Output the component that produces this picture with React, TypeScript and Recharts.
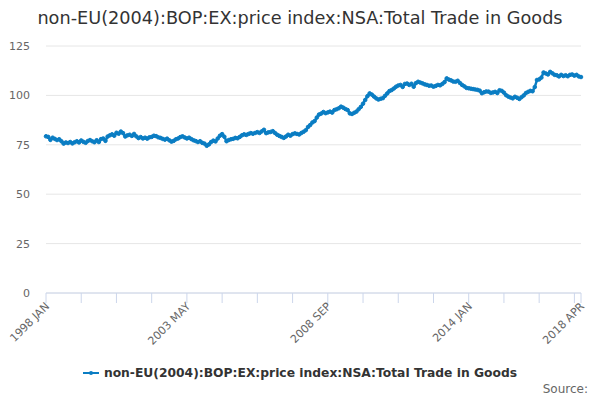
import React from 'react';
import { LineChart, Line, XAxis, YAxis, CartesianGrid, Legend } from 'recharts';

const TITLE = 'non-EU(2004):BOP:EX:price index:NSA:Total Trade in Goods';
const SERIES_NAME = 'non-EU(2004):BOP:EX:price index:NSA:Total Trade in Goods';
const SOURCE_TEXT = 'Source:';
const START_YEAR = 1998;
const MONTHS = ['JAN', 'FEB', 'MAR', 'APR', 'MAY', 'JUN', 'JUL', 'AUG', 'SEP', 'OCT', 'NOV', 'DEC'];

const VALUES = [
  // 1998
  79.3, 79.0, 77.5, 78.6, 78.0, 77.4, 77.8, 76.8, 75.6, 76.2, 75.9, 76.4,
  // 1999
  75.7, 76.3, 76.8, 76.2, 77.2, 76.5, 76.0, 76.9, 77.4, 76.8, 76.3, 77.3,
  // 2000
  76.4, 77.9, 78.2, 77.0, 79.2, 79.8, 80.3, 79.6, 81.1, 80.6, 81.7, 80.9,
  // 2001
  79.2, 79.8, 80.1, 79.5, 80.5, 79.3, 78.4, 78.9, 78.2, 78.6, 78.1, 78.8,
  // 2002
  79.0, 79.6, 79.4, 78.8, 78.5, 78.0, 77.6, 78.1, 77.3, 76.6, 77.0, 77.8,
  // 2003
  78.2, 78.9, 79.3, 78.7, 78.2, 78.6, 77.9, 77.3, 76.9, 76.4, 76.8, 76.0,
  // 2004
  75.6, 74.5, 75.2, 76.4, 77.1, 76.7, 78.2, 79.6, 80.4, 79.1, 76.8, 77.4,
  // 2005
  77.8, 78.0, 78.5, 78.3, 79.0, 79.8, 80.3, 80.0, 80.5, 80.9, 80.6, 81.0,
  // 2006
  81.4, 81.0, 81.8, 82.6, 80.9, 81.3, 81.5, 81.9, 81.0, 80.1, 79.5, 79.0,
  // 2007
  78.5, 79.2, 80.1, 79.6, 80.4, 80.8, 80.5, 80.2, 81.0, 81.6, 82.4, 84.0,
  // 2008
  85.0, 86.3, 87.0, 88.8, 90.3, 90.8, 91.6, 91.0, 91.4, 91.8, 91.3, 92.6,
  // 2009
  93.0, 93.5, 94.3, 93.8, 93.1, 92.6, 90.9, 90.6, 91.2, 91.8, 93.0, 94.2,
  // 2010
  95.8, 97.7, 99.6, 101.0, 100.4, 99.4, 98.5, 97.9, 98.3, 98.6, 99.8, 101.0,
  // 2011
  102.2, 102.7, 103.5, 104.4, 105.0, 105.3, 104.3, 105.8, 106.0, 105.3, 105.9, 104.4,
  // 2012
  106.2, 106.9, 106.5, 106.1, 105.6, 105.3, 104.9, 105.0, 104.4, 104.8, 105.3, 105.1,
  // 2013
  105.8, 106.7, 108.6, 108.0, 107.6, 107.0, 106.9, 107.4, 106.3, 105.3, 104.6, 103.8,
  // 2014
  103.6, 103.4, 103.2, 103.0, 102.8, 102.4, 101.1, 101.6, 102.0, 101.9, 101.3, 101.5,
  // 2015
  101.8, 101.2, 102.6, 102.3, 101.4, 100.1, 99.4, 98.9, 98.5, 99.3, 98.8, 98.2,
  // 2016
  99.1, 100.0, 101.2, 101.8, 102.3, 102.1, 104.2, 107.8, 108.1, 109.0, 111.6, 111.1,
  // 2017
  110.6, 111.9, 111.2, 110.4, 110.2, 109.6, 110.4, 109.8, 110.2, 109.7, 110.4, 110.6,
  // 2018
  110.0, 110.4, 109.6, 109.3,
];

const Y_TICKS = [0, 25, 50, 75, 100, 125];
const X_TICK_INDICES = [0, 16, 32, 48, 64, 80, 96, 112, 128, 144, 160, 176, 192, 208, 224, 240, 243];
const X_LABEL_INDICES = [0, 64, 128, 192, 243];

const CATEGORIES = VALUES.map((_, i) => `${START_YEAR + Math.floor(i / 12)} ${MONTHS[i % 12]}`);
const DATA = CATEGORIES.map((c, i) => ({ month: c, value: VALUES[i] }));
const X_TICKS = X_TICK_INDICES.map((i) => CATEGORIES[i]);
const X_LABELS = new Set(X_LABEL_INDICES.map((i) => CATEGORIES[i]));

const COLOR = '#0a7dc3';
const FONT = '"DejaVu Sans", Verdana, sans-serif';

const XTick = (props: any) => {
  const { x, y, payload } = props;
  if (!X_LABELS.has(payload.value)) return null;
  const tx = x + 4;
  const ty = y + 2;
  return (
    <text
      x={tx}
      y={ty}
      transform={`rotate(-45 ${tx} ${ty})`}
      textAnchor="end"
      fill="#666666"
      fontSize={11}
      fontFamily={FONT}
    >
      {payload.value}
    </text>
  );
};

const LegendContent = () => (
  <div
    style={{
      display: 'flex',
      justifyContent: 'center',
      alignItems: 'center',
      fontFamily: FONT,
      fontSize: 12.3,
      fontWeight: 'bold',
      color: '#333333',
      height: 18,
    }}
  >
    <svg width={16} height={12} style={{ display: 'block' }}>
      <line x1={0} y1={6} x2={16} y2={6} stroke={COLOR} strokeWidth={2} />
      <circle cx={8} cy={6} r={2} fill={COLOR} />
    </svg>
    <span style={{ marginLeft: 5 }}>{SERIES_NAME}</span>
  </div>
);

export default function App() {
  return (
    <div
      style={{
        position: 'absolute',
        left: 0,
        top: 0,
        width: 600,
        height: 400,
        background: '#ffffff',
        fontFamily: FONT,
      }}
    >
      <div
        style={{
          position: 'absolute',
          left: 0,
          top: 0,
          width: 600,
          height: 36,
          lineHeight: '36px',
          textAlign: 'center',
          fontSize: 17.7,
          color: '#333333',
          zIndex: 2,
        }}
      >
        {TITLE}
      </div>
      <LineChart
        width={600}
        height={400}
        data={DATA}
        margin={{ top: 46, right: 19, left: 0, bottom: 47 }}
      >
        <CartesianGrid vertical={false} stroke="#e6e6e6" />
        <XAxis
          dataKey="month"
          type="category"
          ticks={X_TICKS}
          interval={0}
          height={60}
          tickSize={10}
          tickMargin={2}
          axisLine={{ stroke: '#ccd6eb' }}
          tickLine={{ stroke: '#ccd6eb' }}
          tick={<XTick />}
        />
        <YAxis
          domain={[0, 125]}
          ticks={Y_TICKS}
          width={46}
          axisLine={false}
          tickLine={false}
          tickSize={0}
          tickMargin={16}
          tick={{ fill: '#666666', fontSize: 11, fontFamily: FONT }}
        />
        <Legend
          verticalAlign="middle"
          align="center"
          layout="horizontal"
          wrapperStyle={{ top: 364, left: 0, width: 600 }}
          content={<LegendContent />}
        />
        <Line
          type="linear"
          dataKey="value"
          name={SERIES_NAME}
          stroke={COLOR}
          strokeWidth={2.5}
          dot={{ r: 1.8, fill: COLOR, stroke: COLOR, strokeWidth: 1 }}
          isAnimationActive={false}
        />
      </LineChart>
      <div
        style={{
          position: 'absolute',
          right: 12,
          top: 381,
          lineHeight: '16px',
          fontSize: 12,
          color: '#666666',
        }}
      >
        {SOURCE_TEXT}
      </div>
    </div>
  );
}
